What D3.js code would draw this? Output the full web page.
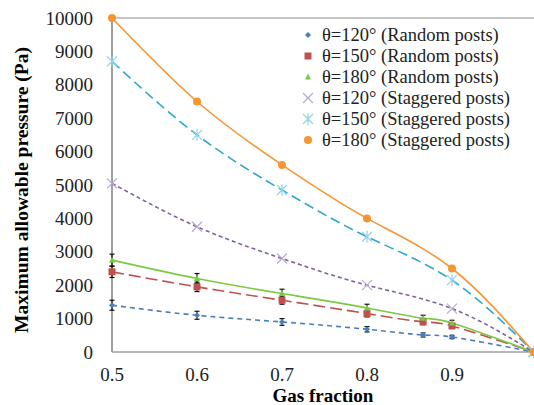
<!DOCTYPE html>
<html lang="en">
<head>
<meta charset="UTF-8">
<title>Maximum allowable pressure</title>
<script src="https://cdn.jsdelivr.net/npm/d3@7"></script>
<style>
    html, body { margin: 0; padding: 0; background: #fff; }
    svg text { font-family: 'Liberation Serif', 'Times New Roman', Times, 'DejaVu Serif', serif; }
</style>
</head>
<body>
<script>
// gas fraction positions
const xRandom = [0.5, 0.6, 0.7, 0.8, 0.866, 0.9, 0.996]
const xStaggered = [0.5, 0.6, 0.7, 0.8, 0.9, 0.996]

// random posts (with error bars)
const r120 = [1400, 1100, 900, 680, 510, 450, 0]
const r150 = [2400, 1950, 1550, 1150, 900, 780, 0]
const r180 = [2750, 2200, 1750, 1320, 1010, 870, 0]
const e120 = [150, 120, 100, 80, 60, 50, 0]
const e150 = [170, 140, 120, 100, 80, 70, 0]
const e180 = [180, 150, 130, 110, 90, 80, 0]

// staggered posts
const s120 = [5050, 3750, 2800, 2000, 1300, 0]
const s150 = [8700, 6500, 4850, 3450, 2150, 0]
const s180 = [10000, 7500, 5600, 4000, 2500, 0]

const xTicks = [0.5, 0.6, 0.7, 0.8, 0.9]
const yTicks = [0, 1000, 2000, 3000, 4000, 5000, 6000, 7000, 8000, 9000, 10000]

const series = [
    { name: 'θ=120° (Random posts)', xs: xRandom, ys: r120, err: e120, color: '#4a7ebf', dash: '5,4', marker: 'diamond' },
    { name: 'θ=150° (Random posts)', xs: xRandom, ys: r150, err: e150, color: '#c0504d', dash: '12,5', marker: 'square' },
    { name: 'θ=180° (Random posts)', xs: xRandom, ys: r180, err: e180, color: '#7ac943', dash: null, marker: 'triangle' },
    { name: 'θ=120° (Staggered posts)', xs: xStaggered, ys: s120, color: '#8064a2', dash: '4,3', marker: 'x' },
    { name: 'θ=150° (Staggered posts)', xs: xStaggered, ys: s150, color: '#2ea8cf', dash: '10,5', marker: 'star' },
    { name: 'θ=180° (Staggered posts)', xs: xStaggered, ys: s180, color: '#f79533', dash: null, marker: 'circle' }
]

const W = 534, H = 405

const svg = d3.select('body').append('svg')
    .attr('width', W)
    .attr('height', H)
    .style('display', 'block')

const x = d3.scaleLinear().domain([0.5, 1.0]).range([112, 537])
const y = d3.scaleLinear().domain([0, 10000]).range([352, 18])

// frame: top border, left and bottom axis
svg.append('line').attr('x1', 112).attr('x2', W).attr('y1', y(10000)).attr('y2', y(10000))
    .attr('stroke', '#8c8c8c').attr('stroke-width', 1.2)
svg.append('line').attr('x1', 112).attr('x2', 112).attr('y1', y(10000)).attr('y2', y(0))
    .attr('stroke', '#7f7f7f').attr('stroke-width', 1.5)
svg.append('line').attr('x1', 112).attr('x2', W).attr('y1', y(0)).attr('y2', y(0))
    .attr('stroke', '#a0a0a0').attr('stroke-width', 1.5)

// tick labels
svg.selectAll('.ytick')
    .data(yTicks)
    .join('text')
    .attr('class', 'ytick')
    .attr('x', 93)
    .attr('y', d => y(d))
    .attr('dy', '0.35em')
    .attr('text-anchor', 'end')
    .attr('font-size', 19)
    .attr('fill', '#222')
    .text(d => d)

svg.selectAll('.xtick')
    .data(xTicks)
    .join('text')
    .attr('class', 'xtick')
    .attr('x', d => x(d))
    .attr('y', 374)
    .attr('dy', '0.35em')
    .attr('text-anchor', 'middle')
    .attr('font-size', 19)
    .attr('fill', '#222')
    .text(d => d3.format('.1f')(d))

// axis titles
svg.append('text')
    .attr('x', 323).attr('y', 395)
    .attr('dy', '0.35em')
    .attr('text-anchor', 'middle')
    .attr('font-size', 19)
    .attr('font-weight', 'bold')
    .text('Gas fraction')

svg.append('text')
    .attr('transform', 'translate(21,190) rotate(-90)')
    .attr('dy', '0.35em')
    .attr('text-anchor', 'middle')
    .attr('font-size', 19.5)
    .attr('font-weight', 'bold')
    .text('Maximum allowable pressure (Pa)')

const line = d3.line()
    .x(d => x(d[0]))
    .y(d => y(d[1]))
    .curve(d3.curveNatural)

const plot = svg.append('g')

// curves
series.forEach(s => {
    const pts = s.xs.map((v, i) => [v, s.ys[i]])
    plot.append('path')
        .attr('d', line(pts))
        .attr('fill', 'none')
        .attr('stroke', s.color)
        .attr('stroke-width', 1.6)
        .attr('stroke-dasharray', s.dash)
})

// error bars
series.filter(s => s.err).forEach(s => {
    s.xs.forEach((v, i) => {
        if (!s.err[i]) return
        const cx = x(v)
        const lo = y(s.ys[i] - s.err[i]), hi = y(s.ys[i] + s.err[i])
        const g = plot.append('g').attr('stroke', '#111').attr('stroke-width', 1.2)
        g.append('line').attr('x1', cx).attr('x2', cx).attr('y1', lo).attr('y2', hi)
        g.append('line').attr('x1', cx - 2.5).attr('x2', cx + 2.5).attr('y1', lo).attr('y2', lo)
        g.append('line').attr('x1', cx - 2.5).attr('x2', cx + 2.5).attr('y1', hi).attr('y2', hi)
    })
})

// markers
function drawMarker(g, type, color, cx, cy) {
    if (type == 'diamond') {
        g.append('path').attr('d', `M${cx},${cy - 3}L${cx + 3},${cy}L${cx},${cy + 3}L${cx - 3},${cy}Z`).attr('fill', color)
    } else if (type == 'square') {
        g.append('rect').attr('x', cx - 3.5).attr('y', cy - 3.5).attr('width', 7).attr('height', 7).attr('fill', color)
    } else if (type == 'triangle') {
        g.append('path').attr('d', `M${cx},${cy - 3.5}L${cx + 3},${cy + 2.5}L${cx - 3},${cy + 2.5}Z`).attr('fill', color)
    } else if (type == 'x') {
        g.append('path').attr('d', `M${cx - 5},${cy - 5}L${cx + 5},${cy + 5}M${cx - 5},${cy + 5}L${cx + 5},${cy - 5}`)
            .attr('stroke', '#b9a7d4').attr('stroke-width', 1.2).attr('fill', 'none')
    } else if (type == 'star') {
        g.append('path').attr('d', `M${cx - 5},${cy - 5}L${cx + 5},${cy + 5}M${cx - 5},${cy + 5}L${cx + 5},${cy - 5}M${cx},${cy - 6}V${cy + 6}`)
            .attr('stroke', '#8fd3e8').attr('stroke-width', 1.2).attr('fill', 'none')
    } else if (type == 'circle') {
        g.append('circle').attr('cx', cx).attr('cy', cy).attr('r', 4).attr('fill', color)
    }
}

series.forEach(s => {
    const g = plot.append('g')
    s.xs.forEach((v, i) => drawMarker(g, s.marker, s.color, x(v), y(s.ys[i])))
})

// legend
const legend = svg.append('g')
series.forEach((s, i) => {
    const ly = 35 + i * 21
    drawMarker(legend, s.marker, s.color, 308, ly)
    legend.append('text')
        .attr('x', 322).attr('y', ly)
        .attr('dy', '0.35em')
        .attr('font-size', 18.5)
        .attr('fill', '#222')
        .text(s.name)
})
</script>
</body>
</html>
